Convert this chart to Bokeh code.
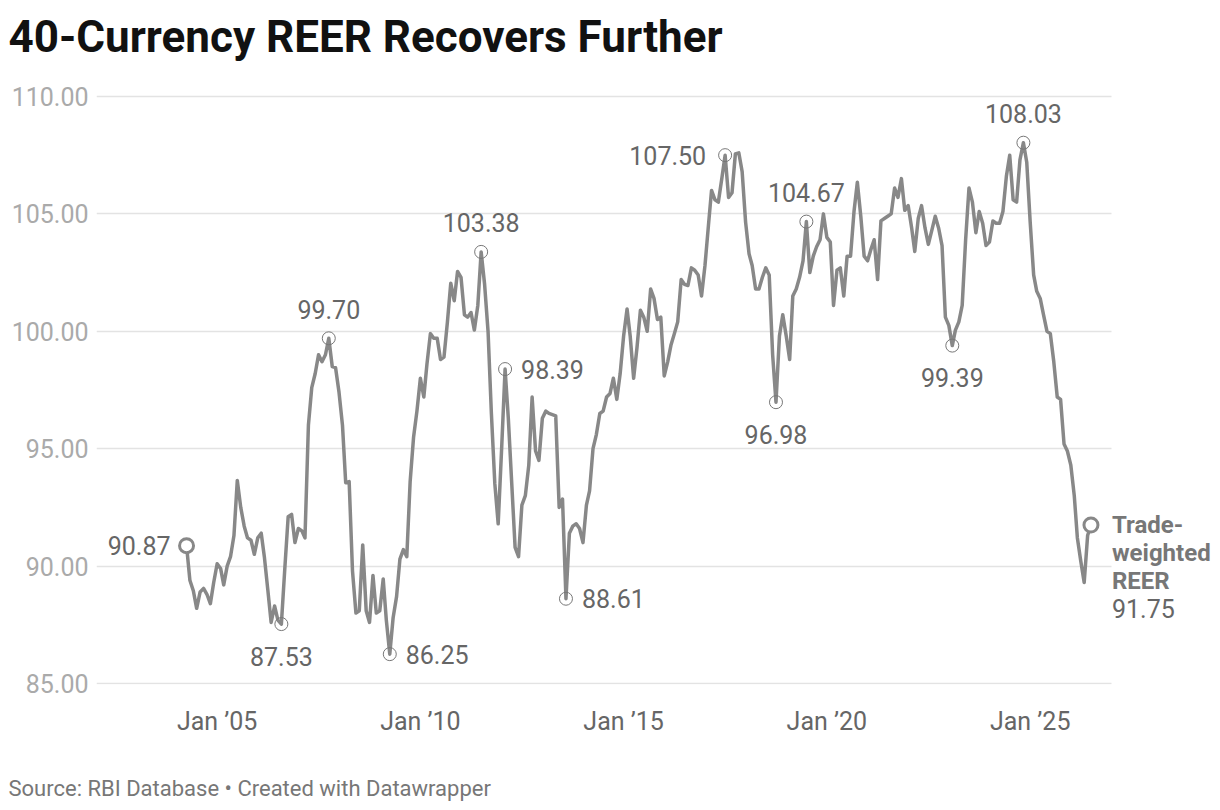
import pandas as pd
from bokeh.plotting import figure
from bokeh.models import (ColumnDataSource, Range1d, FixedTicker,
                          DatetimeTickFormatter, NumeralTickFormatter, Title)
from bokeh.core.properties import value
from bokeh.embed import file_html
from bokeh.resources import INLINE

# monthly 40-currency REER, Apr 2004 onwards
first_month = "2004-04-01"
reer = [
    90.87, 89.4, 88.95, 88.2, 88.9, 89.05, 88.8, 88.4, 89.3,
    90.1, 89.9, 89.2, 90.0, 90.4, 91.3, 93.65, 92.5, 91.7, 91.2, 91.1, 90.5,
    91.2, 91.4, 90.4, 89.0, 87.6, 88.3, 87.7, 87.53, 89.9, 92.1, 92.2, 91.0,
    91.6, 91.5, 91.2, 96.0, 97.6, 98.2, 99.0, 98.7, 99.0, 99.70, 98.5, 98.45,
    97.4, 96.0, 93.55, 93.6, 89.8, 88.0, 88.1, 90.9, 88.1, 87.6, 89.6, 88.0,
    88.1, 89.45, 87.7, 86.25, 87.8, 88.7, 90.3, 90.7, 90.4, 93.6, 95.5, 96.6,
    98.0, 97.2, 98.6, 99.9, 99.7, 99.7, 98.8, 98.9, 100.4, 102.05, 101.3, 102.55,
    102.3, 100.7, 100.6, 100.8, 100.05, 101.1, 103.38, 102.0, 100.0, 96.5, 93.5, 91.8,
    95.0, 98.39, 96.3, 93.5, 90.8, 90.4, 92.6, 93.0, 94.3, 97.2, 94.9, 94.5,
    96.3, 96.6, 96.5, 96.45, 96.4, 92.5, 92.85, 88.61, 91.4, 91.7, 91.8, 91.6,
    91.0, 92.6, 93.2, 95.0, 95.6, 96.5, 96.6, 97.2, 97.35, 98.0, 97.1, 98.2,
    99.8, 100.95, 99.8, 98.0, 99.3, 100.9, 100.6, 100.0, 101.8, 101.4, 100.5, 100.6,
    98.1, 98.7, 99.4, 99.9, 100.4, 102.2, 102.0, 101.95, 102.7, 102.6, 102.4, 101.5,
    102.8, 104.5, 106.0, 105.6, 105.5, 106.5, 107.50, 105.7, 105.9, 107.55, 107.6, 106.8,
    104.65, 103.3, 102.8, 101.8, 101.8, 102.3, 102.7, 102.4, 99.0, 96.98, 99.8, 100.7,
    99.8, 98.8, 101.5, 101.8, 102.3, 103.0, 104.67, 102.5, 103.2, 103.6, 103.9, 105.0,
    104.0, 103.8, 101.1, 102.6, 102.7, 101.5, 103.2, 103.2, 105.1, 106.35, 104.9, 103.2,
    103.0, 103.5, 103.9, 102.2, 104.7, 104.8, 104.9, 105.0, 106.1, 105.7, 106.5, 105.15,
    105.35, 104.4, 103.4, 104.8, 105.35, 104.4, 103.7, 104.3, 104.9, 104.4, 103.65, 100.6,
    100.25, 99.39, 100.05, 100.4, 101.1, 103.9, 106.1, 105.5, 104.2, 105.1, 104.6, 103.65,
    103.8, 104.7, 104.6, 104.6, 105.1, 106.6, 107.5, 105.6, 105.5, 107.3, 108.03, 107.2,
    104.65, 102.4, 101.7, 101.4, 100.7, 100.0, 99.9, 98.7, 97.2, 97.1, 95.2, 94.9,
    94.3, 93.0, 91.2, 90.2, 89.3, 91.3, 91.75,
]

y_ticks = [85, 90, 95, 100, 105, 110]
tick_years = [2005, 2010, 2015, 2020, 2025]

# highlighted turning points and where their label goes
marked_months = ["2006-08", "2007-10", "2009-04", "2011-07", "2012-02", "2013-08",
                 "2017-07", "2018-10", "2019-07", "2023-02", "2024-11"]
marked_side = ["below", "above", "right", "above", "right", "right",
               "left", "below", "above", "below", "above"]

series_label = ["Trade-", "weighted", "REER"]
title_text = "40-Currency REER Recovers Further"
source_text = "Source: RBI Database \u2022 Created with Datawrapper"

FONT = "Roboto"
LINE = "#888888"
LABEL = "#666666"


def ms(ts):
    return pd.Timestamp(ts).value / 1e6


dates = pd.date_range(first_month, periods=len(reer), freq="MS")
df = pd.DataFrame({"date": dates, "reer": reer})
df["label"] = df["reer"].map(lambda v: f"{v:.2f}")
src = ColumnDataSource(df)

p = figure(width=1212, height=802, x_axis_type="datetime",
           x_range=Range1d(ms("2002-01-13"), ms("2029-06-27")),
           y_range=Range1d(84.957, 111.063),
           output_backend="svg", toolbar_location=None,
           min_border_left=96, min_border_right=0,
           min_border_top=70, min_border_bottom=118)
p.outline_line_color = None
p.background_fill_color = "white"
p.border_fill_color = "white"

# title / footer
p.title.text = title_text
p.title.text_font = FONT
p.title.text_font_style = "bold"
p.title.text_font_size = "44px"
p.title.text_color = "#111111"
p.title.align = "left"
p.title.offset = -88
p.title.standoff = 17
p.add_layout(Title(text=source_text, text_font=FONT, text_font_size="22px",
                   text_font_style="normal", text_color="#777777",
                   align="left", vertical_align="bottom",
                   offset=-88, standoff=2), "below")

# axes
p.yaxis.ticker = FixedTicker(ticks=y_ticks)
p.yaxis.formatter = NumeralTickFormatter(format="0.00")
p.xaxis.ticker = FixedTicker(ticks=[ms(f"{y}-01-01") for y in tick_years])
fmt = "Jan \u2019%y"
p.xaxis.formatter = DatetimeTickFormatter(years=fmt, months=fmt, days=fmt)
for ax in (p.xaxis, p.yaxis):
    ax.axis_line_color = None
    ax.major_tick_line_color = None
    ax.minor_tick_line_color = None
    ax.major_tick_out = 0
    ax.major_tick_in = 0
    ax.major_label_text_font = FONT
    ax.major_label_text_font_size = "25px"
p.yaxis.major_label_text_color = "#aaaaaa"
p.yaxis.major_label_standoff = 8
p.xaxis.major_label_text_color = LABEL
p.xaxis.major_label_standoff = 22
# blank spacer label pushes the source line further down
p.xaxis.axis_label = " "
p.xaxis.axis_label_text_font_size = "1px"
p.xaxis.axis_label_standoff = 30

p.xgrid.visible = False
p.ygrid.ticker = FixedTicker(ticks=y_ticks)
p.ygrid.grid_line_color = "#e3e3e3"
p.ygrid.grid_line_width = 1.5
p.ygrid.cross_bounds = (ms("2002-01-13"), ms("2027-01-01"))

# the series
p.line("date", "reer", source=src, line_width=3.5, line_color=LINE, line_join="round")

# turning points
pos = {d: i for i, d in enumerate(dates.strftime("%Y-%m"))}
marks = df.iloc[[pos[m] for m in marked_months]].copy()
marks["side"] = marked_side
p.scatter("date", "reer", source=ColumnDataSource(marks), size=13,
          fill_color=None, line_color="#777777", line_width=1)

side_style = {
    "above": dict(text_align="center", x_offset=0, y_offset=-29),
    "below": dict(text_align="center", x_offset=0, y_offset=32),
    "right": dict(text_align="left", x_offset=16, y_offset=0),
    "left": dict(text_align="right", x_offset=-19, y_offset=0),
}
for side, style in side_style.items():
    sub = marks[marks["side"] == side]
    p.text("date", "reer", text="label", source=ColumnDataSource(sub),
           text_font=value(FONT), text_font_size="25px", text_color=LABEL,
           text_baseline="middle", **style)

# first and last point
ends = df.iloc[[0, len(df) - 1]]
p.scatter("date", "reer", source=ColumnDataSource(ends), size=14,
          fill_color="white", line_color=LINE, line_width=3)
first = df.iloc[[0]]
p.text("date", "reer", text="label", source=ColumnDataSource(first),
       text_font=value(FONT), text_font_size="25px", text_color=LABEL,
       text_align="right", text_baseline="middle", x_offset=-16)

last = df.iloc[-1]
for i, line in enumerate(series_label):
    p.text(x=[last["date"]], y=[last["reer"]], text=[line],
           text_font=value(FONT), text_font_style="bold", text_font_size="24px",
           text_color="#777777", text_align="left", text_baseline="middle",
           x_offset=21, y_offset=28 * i)
p.text(x=[last["date"]], y=[last["reer"]], text=[last["label"]],
       text_font=value(FONT), text_font_size="25px", text_color=LABEL,
       text_align="left", text_baseline="middle", x_offset=21, y_offset=28 * len(series_label))

open("out.html", "w").write(file_html(p, INLINE))
